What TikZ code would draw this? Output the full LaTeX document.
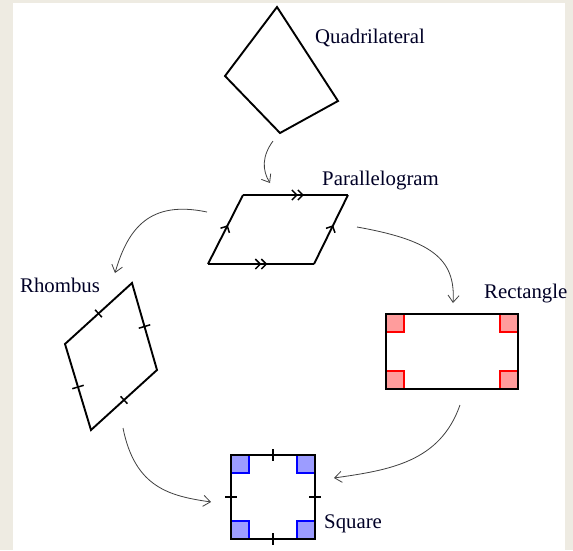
\documentclass[tikz,border=0pt]{standalone}
\usepackage{fontspec}
\setmainfont{Liberation Serif}
\usetikzlibrary{arrows.meta,decorations.markings,calc}
\definecolor{bgbeige}{HTML}{EEEBE2}
\definecolor{redfill}{HTML}{FF9C9C}
\definecolor{bluefill}{HTML}{9C9CFF}
\definecolor{arrowgrey}{HTML}{404040}
\tikzset{
  figline/.style={line width=1.9pt,line join=miter},
  lbl/.style={anchor=base west,inner sep=0pt,font=\fontsize{20.8}{21}\selectfont,text=black!85!blue},
  conn/.style={arrowgrey,line width=0.8pt,-{Straight Barb[length=7pt,width=11pt,line width=0.8pt]}},
  tickmk/.style={line width=1.5pt},
  redsq/.style={fill=redfill,draw=red,line width=1.1pt},
  bluesq/.style={fill=bluefill,draw=blue,line width=1.1pt},
  chev/.style={decoration={markings,mark=at position #1 with {\draw[line width=1.5pt] (-5pt,5pt)--(0,0)--(-5pt,-5pt);}},postaction={decorate}},
  dchev/.style={decoration={markings,mark=at position #1 with {\draw[line width=1.5pt] (-5pt,5pt)--(0,0)--(-5pt,-5pt) (-11pt,5pt)--(-6pt,0)--(-11pt,-5pt);}},postaction={decorate}}
}
\begin{document}
\begin{tikzpicture}[x=1pt,y=-1pt]
\useasboundingbox (0,0) rectangle (573,550);
\fill[bgbeige] (0,0) rectangle (573,550);
\fill[white] (13,3) rectangle (565,550);

% Quadrilateral
\draw[figline] (277,7) -- (225,76) -- (280,133) -- (338,101) -- cycle;
\node[lbl] (lq) at (315,43) {Quadrilateral};

% Parallelogram
\draw[figline,dchev=0.57] (243,195) -- (348,195);
\draw[figline,dchev=0.55] (208,264) -- (314,264);
\draw[figline,chev=0.55] (208,264) -- (243,195);
\draw[figline,chev=0.55] (314,264) -- (348,195);
\node[lbl] (lp) at (322,185) {Parallelogram};

% Rhombus
\draw[figline] (132,283) -- (65,344) -- (91,430) -- (157,370) -- cycle;
\draw[tickmk] ($(132,283)!0.5!(65,344)$) ++(-3.4,-3.7) -- ++(6.8,7.4);
\draw[tickmk] ($(65,344)!0.5!(91,430)$) ++(-5.7,1.7) -- ++(11.4,-3.4);
\draw[tickmk] ($(91,430)!0.5!(157,370)$) ++(-3.4,-3.7) -- ++(6.8,7.4);
\draw[tickmk] ($(157,370)!0.5!(132,283)$) ++(-5.7,1.7) -- ++(11.4,-3.4);
\node[lbl] (lrh) at (20,292) {Rhombus};

% Rectangle
\draw[redsq] (386,314) rectangle ++(18,18);
\draw[redsq] (518,314) rectangle ++(-18,18);
\draw[redsq] (386,389) rectangle ++(18,-18);
\draw[redsq] (518,389) rectangle ++(-18,-18);
\draw[figline] (386,314) rectangle (518,389);
\node[lbl] (lre) at (484,298) {Rectangle};

% Square
\draw[bluesq] (231,455) rectangle ++(18,18);
\draw[bluesq] (315,455) rectangle ++(-18,18);
\draw[bluesq] (231,539) rectangle ++(18,-18);
\draw[bluesq] (315,539) rectangle ++(-18,-18);
\draw[figline] (231,455) rectangle (315,539);
\draw[tickmk] (273,449) -- (273,461);
\draw[tickmk] (273,533) -- (273,545);
\draw[tickmk] (225,497) -- (237,497);
\draw[tickmk] (309,497) -- (321,497);
\node[lbl] (lsq) at (324,528) {Square};

% connectors
\coordinate (q1) at (273,141);
\coordinate (p0) at (270,183);
\coordinate (p1) at (207,212);
\coordinate (rh0) at (115,273);
\coordinate (p2) at (357,227);
\coordinate (re0) at (453,303);
\coordinate (rh1) at (123,428);
\coordinate (sq0) at (211,502);
\coordinate (re1) at (460,405);
\coordinate (sq1) at (334,478);
\draw[conn] (q1) .. controls (262,156) and (262,170) .. (p0);
\draw[conn] (p1) .. controls (150,200) and (128,228) .. (rh0);
\draw[conn] (p2) .. controls (430,240) and (456,258) .. (re0);
\draw[conn] (rh1) .. controls (135,488) and (170,496) .. (sq0);
\draw[conn] (re1) .. controls (440,462) and (390,470) .. (sq1);
\end{tikzpicture}
\end{document}
